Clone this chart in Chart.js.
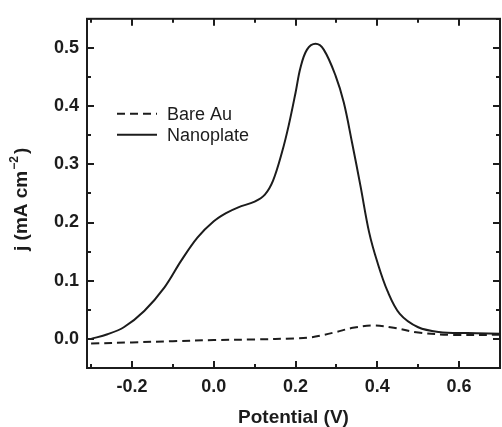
<!DOCTYPE html>
<html>
<head>
<meta charset="utf-8">
<script src="https://cdn.jsdelivr.net/npm/chart.js@4"></script>
<style>
  html, body { margin: 0; padding: 0; background: #fff; }
  #wrap { width: 502px; height: 427px; }
</style>
</head>
<body>
<div id="wrap"><canvas id="cv" width="502" height="427"></canvas></div>
<script>
// --- data ---
const nanoV = [-0.30, -0.26, -0.22, -0.17, -0.12, -0.08, -0.04, 0.00, 0.03, 0.06, 0.10, 0.125, 0.145, 0.167, 0.183, 0.200, 0.212, 0.228, 0.249, 0.269, 0.298, 0.318, 0.338, 0.359, 0.38, 0.40, 0.425, 0.455, 0.50, 0.55, 0.62, 0.70];
const nanoJ = [0.000, 0.008, 0.020, 0.048, 0.089, 0.134, 0.174, 0.202, 0.216, 0.226, 0.236, 0.248, 0.272, 0.321, 0.366, 0.423, 0.466, 0.497, 0.507, 0.497, 0.452, 0.406, 0.338, 0.262, 0.183, 0.132, 0.082, 0.043, 0.020, 0.012, 0.010, 0.009];

const bareV = [-0.30, -0.20, -0.10, 0.00, 0.10, 0.20, 0.24, 0.27, 0.30, 0.34, 0.39, 0.44, 0.50, 0.58, 0.70];
const bareJ = [-0.008, -0.006, -0.004, -0.002, -0.001, 0.001, 0.003, 0.007, 0.012, 0.019, 0.023, 0.019, 0.011, 0.007, 0.007];

const xMajor = [-0.2, 0.0, 0.2, 0.4, 0.6];
const xMinor = [-0.3, -0.1, 0.1, 0.3, 0.5, 0.7];
const yMajor = [0.0, 0.1, 0.2, 0.3, 0.4, 0.5];
const yMinor = [-0.05, 0.05, 0.15, 0.25, 0.35, 0.45, 0.55];

const INK = '#1c1c1c';
const FONT = '"Liberation Sans", Arial, sans-serif';
const toPts = (xs, ys) => xs.map((x, i) => ({ x, y: ys[i] }));

// 枠と内向きの目盛り
const framePlugin = {
    id: 'frame',
    afterDraw(chart) {
        const { ctx, chartArea: a, scales: { x, y } } = chart;
        ctx.save();
        ctx.strokeStyle = INK;
        ctx.lineWidth = 2;
        ctx.strokeRect(a.left, a.top, a.right - a.left, a.bottom - a.top);
        const tick = (v, len, horiz) => {
            ctx.beginPath();
            if (horiz) {
                const px = Math.round(x.getPixelForValue(v));
                ctx.moveTo(px, a.bottom); ctx.lineTo(px, a.bottom - len);
                ctx.moveTo(px, a.top); ctx.lineTo(px, a.top + len);
            } else {
                const py = Math.round(y.getPixelForValue(v));
                ctx.moveTo(a.left, py); ctx.lineTo(a.left + len, py);
                ctx.moveTo(a.right, py); ctx.lineTo(a.right - len, py);
            }
            ctx.stroke();
        };
        xMajor.forEach(v => tick(v, 7, true));
        xMinor.forEach(v => tick(v, 4, true));
        yMajor.forEach(v => tick(v, 7, false));
        yMinor.forEach(v => tick(v, 4, false));
        ctx.restore();
    }
};

// 凡例（グラフ内に描画）
const legendPlugin = {
    id: 'innerLegend',
    afterDraw(chart) {
        const { ctx, chartArea: a } = chart;
        ctx.save();
        ctx.font = '18px ' + FONT;
        ctx.textBaseline = 'middle';
        ctx.fillStyle = INK;
        chart.data.datasets.forEach((ds, i) => {
            const yy = a.top + 95 + i * 21;
            const x0 = a.left + 30;
            ctx.strokeStyle = ds.borderColor;
            ctx.lineWidth = 2;
            ctx.setLineDash(ds.borderDash || []);
            ctx.beginPath();
            ctx.moveTo(x0, yy); ctx.lineTo(x0 + 40, yy);
            ctx.stroke();
            ctx.setLineDash([]);
            ctx.fillText(ds.label, x0 + 50, yy + 1);
        });
        ctx.restore();
    }
};

// 縦軸タイトル（上付き文字つき）
const yTitlePlugin = {
    id: 'yTitle',
    afterDraw(chart) {
        const { ctx } = chart;
        ctx.save();
        ctx.translate(27, 251);
        ctx.rotate(-Math.PI / 2);
        ctx.fillStyle = INK;
        ctx.textBaseline = 'alphabetic';
        ctx.textAlign = 'left';
        ctx.font = 'bold 19px ' + FONT;
        const main = 'j (mA cm';
        ctx.fillText(main, 0, 0);
        let w = ctx.measureText(main).width + 1;
        ctx.font = 'bold 12px ' + FONT;
        const sup = '\u22122';
        ctx.fillText(sup, w, -9);
        w += ctx.measureText(sup).width + 2;
        ctx.font = 'bold 19px ' + FONT;
        ctx.fillText(')', w, 0);
        ctx.restore();
    }
};

new Chart(document.getElementById('cv').getContext('2d'), {
    type: 'line',
    data: {
        datasets: [
            {
                label: 'Bare Au',
                data: toPts(bareV, bareJ),
                borderColor: INK,
                borderWidth: 2,
                borderDash: [8, 5],
                pointRadius: 0,
                tension: 0.35,
                fill: false
            },
            {
                label: 'Nanoplate',
                data: toPts(nanoV, nanoJ),
                borderColor: INK,
                borderWidth: 2,
                pointRadius: 0,
                tension: 0.35,
                fill: false
            }
        ]
    },
    options: {
        responsive: false,
        animation: false,
        devicePixelRatio: 1,
        layout: { padding: { top: 16, right: 2, left: 0, bottom: 0 } },
        plugins: { legend: { display: false }, tooltip: { enabled: false } },
        scales: {
            x: {
                type: 'linear',
                min: -0.31,
                max: 0.70,
                afterBuildTicks: s => { s.ticks = xMajor.map(v => ({ value: v })); },
                afterFit: s => { s.height = 59; },
                grid: { display: false, drawTicks: false },
                border: { display: false },
                ticks: {
                    color: INK,
                    padding: 8,
                    maxRotation: 0,
                    autoSkip: false,
                    font: { family: FONT, size: 18, weight: 'bold' },
                    callback: v => v.toFixed(1)
                },
                title: {
                    display: true,
                    text: 'Potential (V)',
                    color: INK,
                    padding: { top: 0, bottom: -2 },
                    font: { family: FONT, size: 19, weight: 'bold' }
                }
            },
            y: {
                type: 'linear',
                min: -0.05,
                max: 0.55,
                afterBuildTicks: s => { s.ticks = yMajor.map(v => ({ value: v })); },
                afterFit: s => { s.width = 87; },
                grid: { display: false, drawTicks: false },
                border: { display: false },
                ticks: {
                    color: INK,
                    padding: 8,
                    autoSkip: false,
                    font: { family: FONT, size: 18, weight: 'bold' },
                    callback: v => v.toFixed(1)
                },
                title: { display: false }
            }
        }
    },
    plugins: [framePlugin, legendPlugin, yTitlePlugin]
});
</script>
</body>
</html>
